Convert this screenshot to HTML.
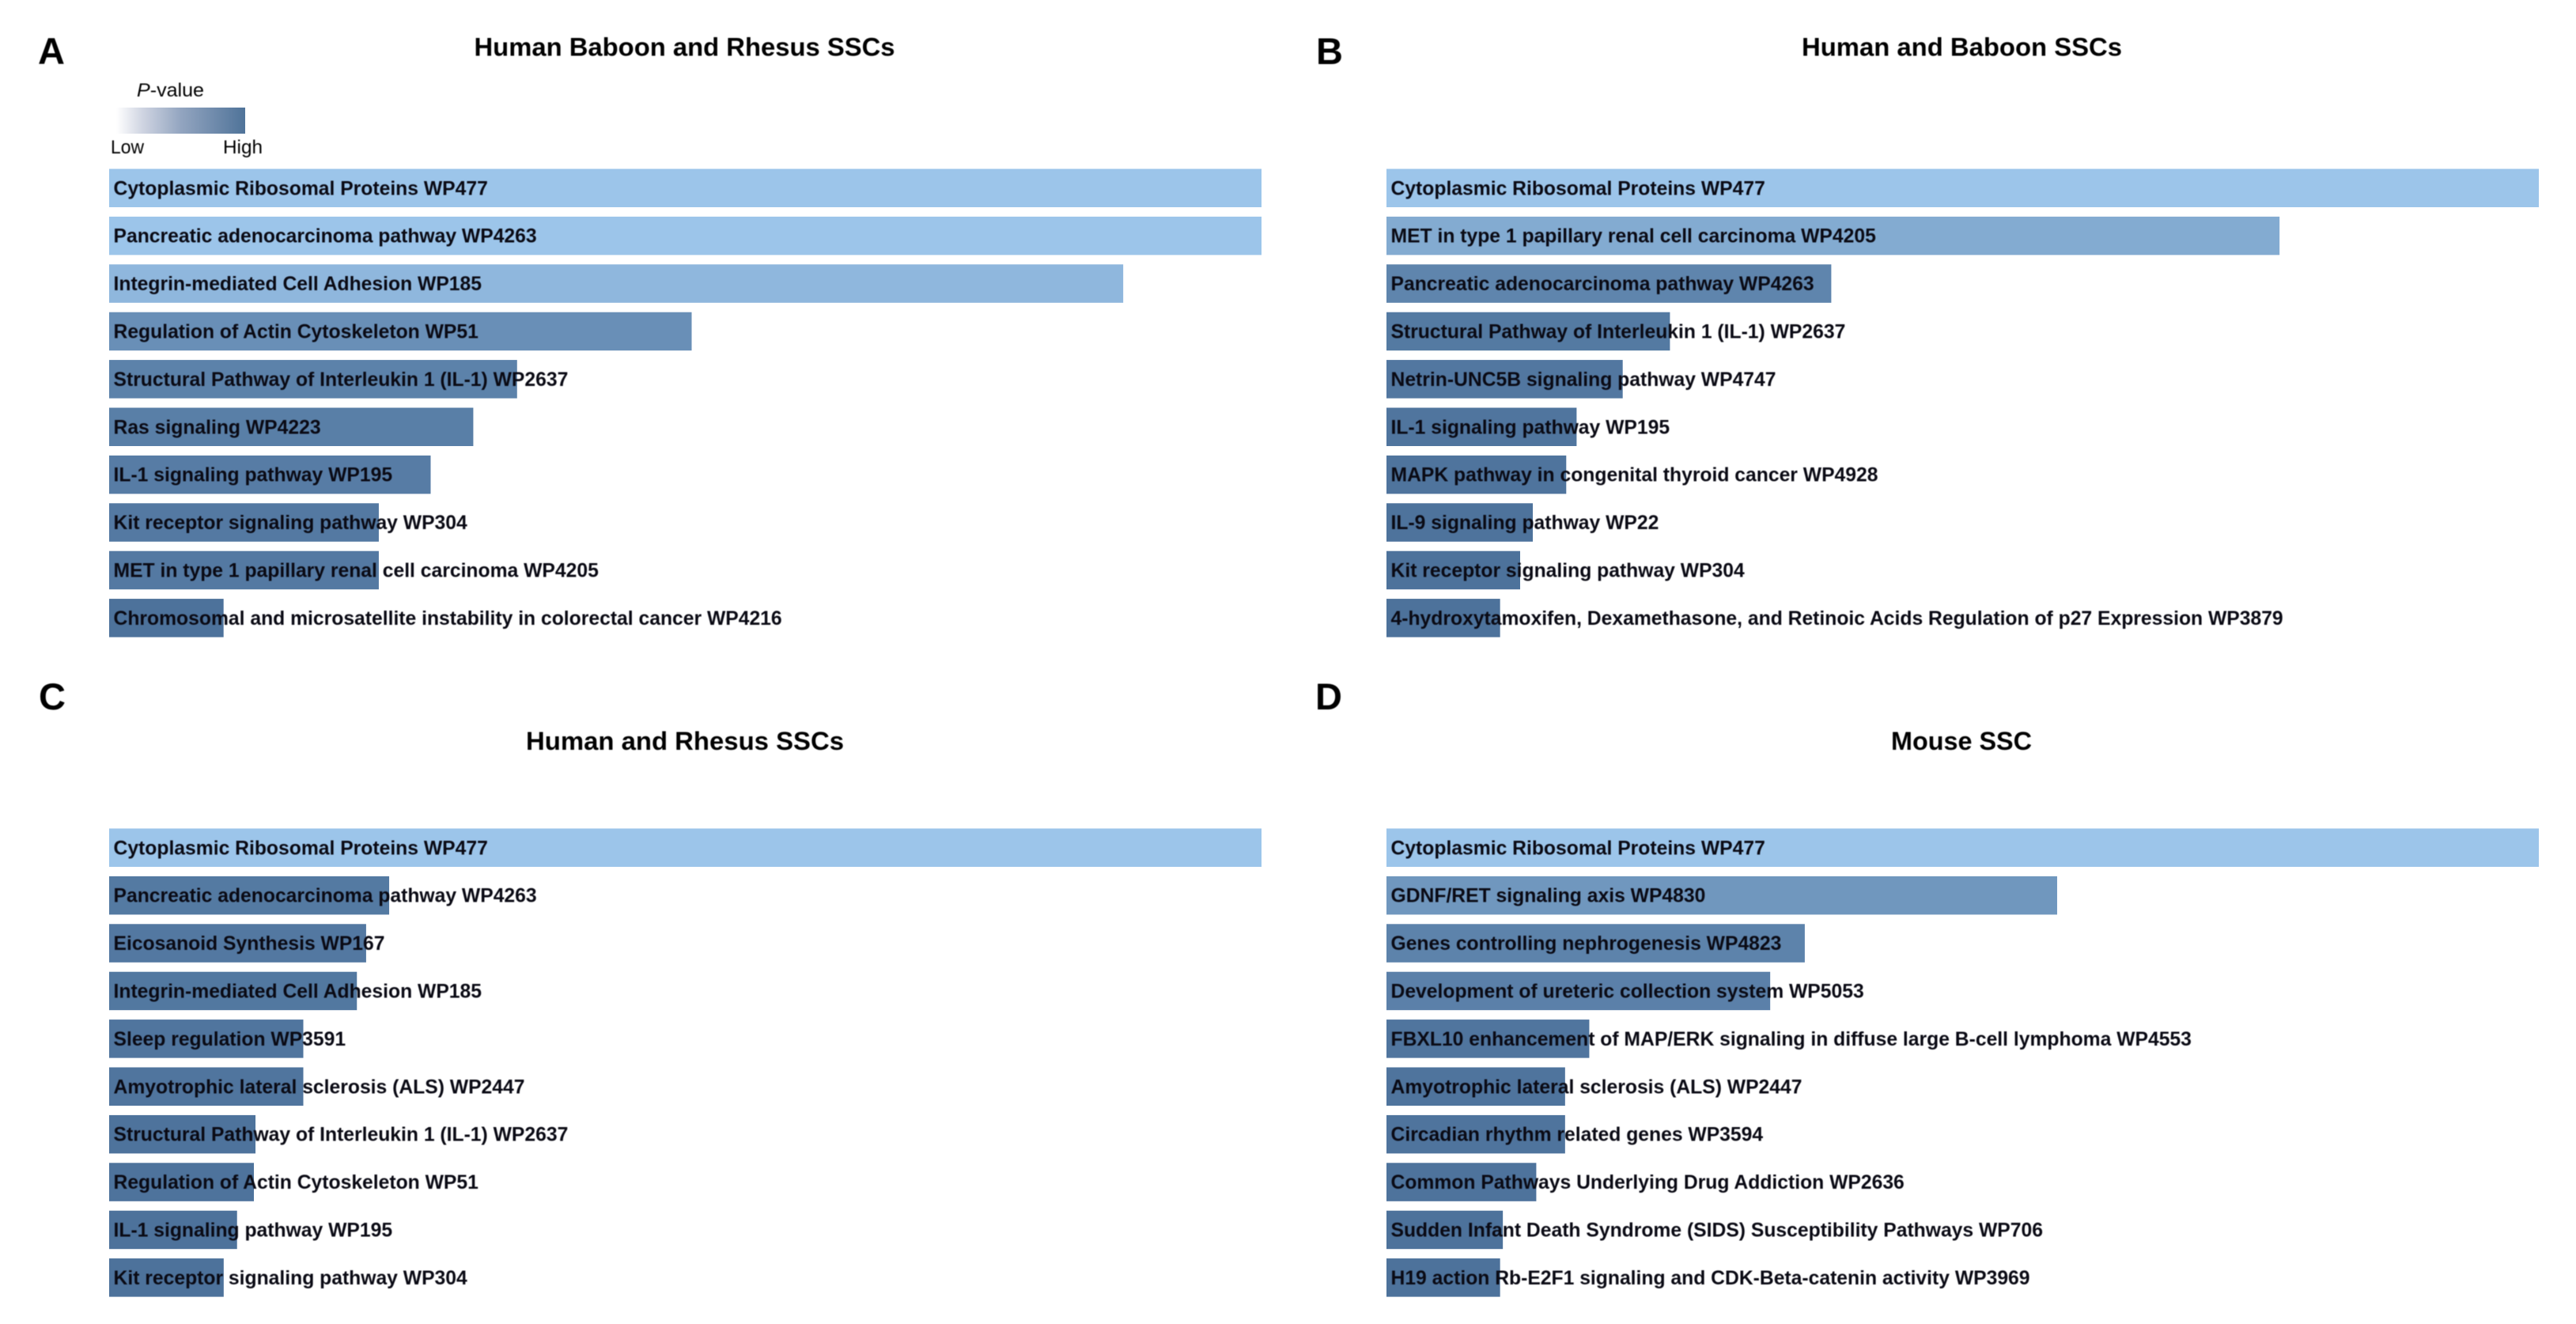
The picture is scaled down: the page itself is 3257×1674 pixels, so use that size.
<!DOCTYPE html>
<html lang="en">
<head>
<meta charset="utf-8">
<title>Pathway enrichment in SSCs</title>
<style>
html,body{margin:0;padding:0;background:#fff;width:3257px;height:1674px;overflow:hidden}
svg{display:block}
text{font-family:"Liberation Sans",Arial,sans-serif;fill:#000}
.bar-label{font-size:24.7px;font-weight:700;fill:#0a0a14}
.panel-title{font-size:32px;font-weight:700}
.panel-letter{font-size:47px;font-weight:700}
.legend-text{font-size:24px}
.soft{filter:blur(.5px)}
</style>
</head>
<body>
<svg id="figure" xmlns="http://www.w3.org/2000/svg" width="3257" height="1674" viewBox="0 0 3257 1674">
  <defs>
    <linearGradient id="pvalue-gradient" x1="0" x2="1" y1="0" y2="0">
      <stop offset="0" stop-color="#ffffff"/>
      <stop offset="0.2" stop-color="#d0d5e2"/>
      <stop offset="0.5" stop-color="#93a5c0"/>
      <stop offset="1" stop-color="#4f7399"/>
    </linearGradient>
  </defs>
  <g class="soft">
    <text class="panel-letter" x="48" y="81">A</text>
    <text class="panel-letter" x="1664" y="81">B</text>
    <text class="panel-letter" x="49" y="897">C</text>
    <text class="panel-letter" x="1663" y="897">D</text>
  </g>
  <g class="soft">
    <text class="panel-title" x="599.5" y="70.5" textLength="532" lengthAdjust="spacingAndGlyphs">Human Baboon and Rhesus SSCs</text>
    <text class="panel-title" x="2278" y="70.5" textLength="405" lengthAdjust="spacingAndGlyphs">Human and Baboon SSCs</text>
    <text class="panel-title" x="665" y="948" textLength="402" lengthAdjust="spacingAndGlyphs">Human and Rhesus SSCs</text>
    <text class="panel-title" x="2391" y="948" textLength="178" lengthAdjust="spacingAndGlyphs">Mouse SSC</text>
  </g>
  <g>
    <text class="legend-text soft" x="173" y="122" textLength="85" lengthAdjust="spacingAndGlyphs"><tspan font-style="italic">P</tspan>-value</text>
    <rect x="147" y="136" width="163" height="33" fill="url(#pvalue-gradient)"/>
    <text class="legend-text soft" x="140" y="194" textLength="42" lengthAdjust="spacingAndGlyphs">Low</text>
    <text class="legend-text soft" x="282" y="194" textLength="50" lengthAdjust="spacingAndGlyphs">High</text>
  </g>
  <g id="panel-a"></g>
  <g id="panel-b"></g>
  <g id="panel-c"></g>
  <g id="panel-d"></g>
</svg>
<script>
const panelALabels = ["Cytoplasmic Ribosomal Proteins WP477","Pancreatic adenocarcinoma pathway WP4263","Integrin-mediated Cell Adhesion WP185","Regulation of Actin Cytoskeleton WP51","Structural Pathway of Interleukin 1 (IL-1) WP2637","Ras signaling WP4223","IL-1 signaling pathway WP195","Kit receptor signaling pathway WP304","MET in type 1 papillary renal cell carcinoma WP4205","Chromosomal and microsatellite instability in colorectal cancer WP4216"];
const panelAValues = [100,100,88,50.55,35.4,31.6,27.9,23.4,23.4,9.93];

const panelBLabels = ["Cytoplasmic Ribosomal Proteins WP477","MET in type 1 papillary renal cell carcinoma WP4205","Pancreatic adenocarcinoma pathway WP4263","Structural Pathway of Interleukin 1 (IL-1) WP2637","Netrin-UNC5B signaling pathway WP4747","IL-1 signaling pathway WP195","MAPK pathway in congenital thyroid cancer WP4928","IL-9 signaling pathway WP22","Kit receptor signaling pathway WP304","4-hydroxytamoxifen, Dexamethasone, and Retinoic Acids Regulation of p27 Expression WP3879"];
const panelBValues = [100,77.5,38.6,24.6,20.5,16.5,15.6,12.7,11.6,9.86];

const panelCLabels = ["Cytoplasmic Ribosomal Proteins WP477","Pancreatic adenocarcinoma pathway WP4263","Eicosanoid Synthesis WP167","Integrin-mediated Cell Adhesion WP185","Sleep regulation WP3591","Amyotrophic lateral sclerosis (ALS) WP2447","Structural Pathway of Interleukin 1 (IL-1) WP2637","Regulation of Actin Cytoskeleton WP51","IL-1 signaling pathway WP195","Kit receptor signaling pathway WP304"];
const panelCValues = [100,24.3,22.3,21.5,16.85,16.85,12.7,12.56,11.1,9.94];

const panelDLabels = ["Cytoplasmic Ribosomal Proteins WP477","GDNF/RET signaling axis WP4830","Genes controlling nephrogenesis WP4823","Development of ureteric collection system WP5053","FBXL10 enhancement of MAP/ERK signaling in diffuse large B-cell lymphoma WP4553","Amyotrophic lateral sclerosis (ALS) WP2447","Circadian rhythm related genes WP3594","Common Pathways Underlying Drug Addiction WP2636","Sudden Infant Death Syndrome (SIDS) Susceptibility Pathways WP706","H19 action Rb-E2F1 signaling and CDK-Beta-catenin activity WP3969"];
const panelDValues = [100,58.2,36.3,33.3,17.6,15.5,15.5,13,10.1,9.86];

const SVG_NS = "http://www.w3.org/2000/svg";
const plotWidth = 1457, rowPitch = 60.4, barHeight = 48.5, domainMax = 100;
const colorLow = [77,114,155], colorHigh = [156,197,234];

function xScale(value){ return value / domainMax * plotWidth; }
function yScale(index, top){ return top + index * rowPitch; }
function colorScale(value){
  const t = Math.pow(Math.max(0, Math.min(1, (value - 10) / (domainMax - 10))), 1.3);
  const c = colorLow.map((low, i) => Math.round(low + (colorHigh[i] - low) * t));
  return "rgb(" + c.join(",") + ")";
}
function drawPanel(groupId, key, labels, values, left, top){
  const group = document.getElementById(groupId);
  values.forEach((value, i) => {
    const bar = document.createElementNS(SVG_NS, "rect");
    bar.setAttribute("x", left);
    bar.setAttribute("y", yScale(i, top));
    bar.setAttribute("width", xScale(value));
    bar.setAttribute("height", barHeight);
    bar.setAttribute("fill", colorScale(value));
    
    
    group.appendChild(bar);
  });
  labels.forEach((label, i) => {
    const text = document.createElementNS(SVG_NS, "text");
    text.setAttribute("class", "bar-label soft");
    text.setAttribute("x", left + 5.5);
    text.setAttribute("y", yScale(i, top) + barHeight / 2 + 8.5);
    text.textContent = label;
    
    
    group.appendChild(text);
  });
}
drawPanel("panel-a", "a", panelALabels, panelAValues, 138, 213.5);
drawPanel("panel-b", "b", panelBLabels, panelBValues, 1753, 213.5);
drawPanel("panel-c", "c", panelCLabels, panelCValues, 138, 1047.5);
drawPanel("panel-d", "d", panelDLabels, panelDValues, 1753, 1047.5);
</script>
</body>
</html>
